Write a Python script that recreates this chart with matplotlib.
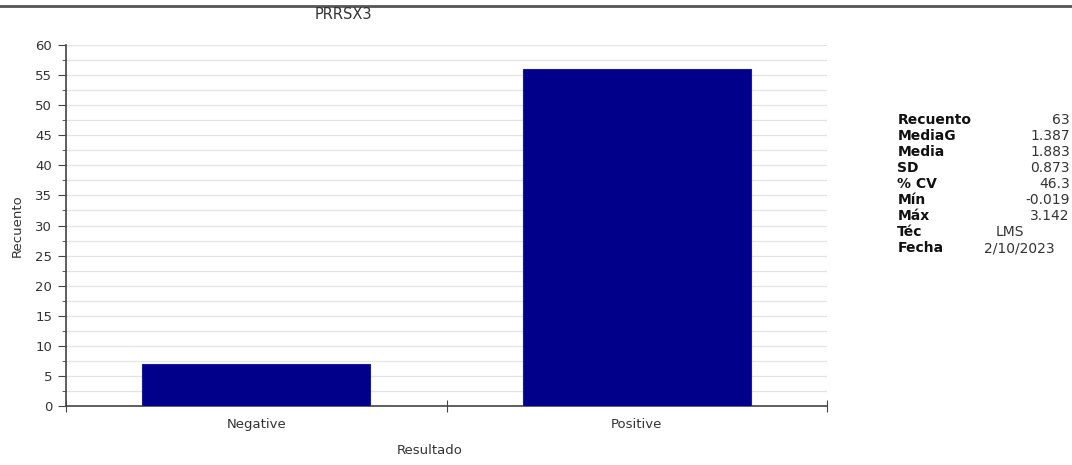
import matplotlib.pyplot as plt
import matplotlib.lines as mlines
from matplotlib.ticker import MultipleLocator

categories = ["Negative", "Positive"]
counts = [7, 56]

stat_labels = ["Recuento", "MediaG", "Media", "SD", "% CV", "Mín", "Máx", "Téc", "Fecha"]
stat_values = ["63", "1.387", "1.883", "0.873", "46.3", "-0.019", "3.142", "LMS", "2/10/2023"]

plt.rcParams['font.family'] = ['DejaVu Sans']
txt = '#333333'

fig = plt.figure(figsize=(10.72, 4.65), dpi=100)
ax = fig.add_axes([0.0616, 0.1269, 0.7099, 0.7763])

ax.bar(range(len(categories)), counts, width=0.6, color='#00008B', edgecolor='#1a1aa0', linewidth=0.8, zorder=3)

ax.set_xlim(-0.5, 1.5)
ax.set_ylim(0, 60)
ax.yaxis.set_major_locator(MultipleLocator(5))
ax.yaxis.set_minor_locator(MultipleLocator(2.5))
ax.grid(True, which='both', axis='y', color='#e4e4e4', linewidth=0.9, zorder=0)

ax.set_xticks([-0.5, 0.5, 1.5])
ax.set_xticklabels([])
ax.set_xticks([0, 1], minor=True)
ax.set_xticklabels(categories, minor=True)
ax.tick_params(axis='x', which='major', direction='inout', length=8, color='#444444')
ax.tick_params(axis='x', which='minor', length=0, pad=9, labelsize=9.5, labelcolor=txt)
ax.tick_params(axis='y', which='major', length=6, color='#444444', labelsize=9.5, labelcolor=txt, pad=4)
ax.tick_params(axis='y', which='minor', length=3, color='#444444')

for s in ['top', 'right']:
    ax.spines[s].set_visible(False)
for s in ['left', 'bottom']:
    ax.spines[s].set_color('#444444')
    ax.spines[s].set_linewidth(1.2)

ax.set_ylabel("Recuento", fontsize=9.5, color=txt, labelpad=8)
fig.text(0.401, 0.032, "Resultado", fontsize=9.5, color=txt, ha='center', va='center')
fig.text(0.32, 0.968, "PRRSX3", fontsize=10.5, color=txt, ha='center', va='center')

fig.add_artist(mlines.Line2D([0, 1], [0.987, 0.987], color='#555555', linewidth=2, transform=fig.transFigure))

y0 = 0.742
dy = 0.0345
for i, (lab, val) in enumerate(zip(stat_labels, stat_values)):
    y = y0 - i * dy
    fig.text(0.837, y, lab, fontsize=10, fontweight='bold', color='#111111', va='center')
    if lab == "Téc":
        fig.text(0.929, y, val, fontsize=10, color=txt, va='center')
    elif lab == "Fecha":
        fig.text(0.918, y, val, fontsize=10, color=txt, va='center')
    else:
        fig.text(0.998, y, val, fontsize=10, color=txt, va='center', ha='right')

fig.savefig("out.png", dpi=100)
